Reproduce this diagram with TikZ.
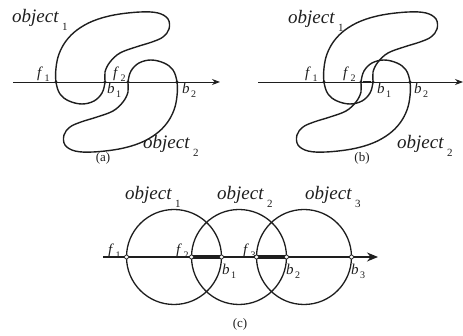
\documentclass[tikz,border=0pt]{standalone}
\usepackage{fontspec}
\setmainfont{Liberation Serif}
\usetikzlibrary{arrows.meta}
\definecolor{inkDark}{HTML}{1E1E1E}
\newcommand\objtxt[1]{\fontsize{19}{20}\selectfont\textit{object}\hspace{3pt}\raisebox{-8pt}{\fontsize{11}{11}\selectfont #1}}
\newcommand\ptxt[2]{\fontsize{15}{15}\selectfont\textit{#1}\hspace{1.5pt}\raisebox{-4pt}{\fontsize{10}{10}\selectfont #2}}
\newcommand\hook[1]{\draw[obj,#1] plot[smooth cycle,tension=0.6] coordinates
  {(0,0) (0,-14) (3,-28) (10,-41) (21,-52) (37,-61) (58,-67) (84,-70) (102,-69)
   (112,-63) (113,-53) (107,-45) (96,-40) (80,-35) (64,-29) (54,-20) (49,-10)
   (49,0) (46,11) (38,19) (26,22) (13,19) (4,12)};}

\begin{document}
\begin{tikzpicture}[x=1pt,y=-1pt,line join=round,
    obj/.style={draw=inkDark,line width=1.4pt},
    axis/.style={draw=inkDark,line width=0.9pt,-{Stealth[length=8pt,width=6pt]}},
    dot/.style={circle,fill=inkDark,inner sep=0pt,minimum size=3.4pt},
    hdot/.style={circle,draw=inkDark,fill=white,line width=0.7pt,inner sep=0pt,minimum size=4pt},
    ring/.style={circle,draw=inkDark,line width=1.3pt,minimum size=95pt,inner sep=0pt,outer sep=0pt},
    lbl/.style={anchor=base west,inner sep=0pt,text=inkDark},
    captxt/.style={font=\fontsize{13}{13}\selectfont,inner sep=0pt,text=inkDark}]
  \useasboundingbox (0,0) rectangle (463,336);

  % (a)
  \hook{shift={(56,82)}}
  \hook{shift={(177,82)},rotate=180}
  \coordinate (sa) at (13,82);
  \coordinate (ea) at (220,82);
  \draw[axis] (sa) -- (ea);
  \node[dot] (f1a) at (56,82) {};
  \node[dot] (b1a) at (105,82) {};
  \node[dot] (f2a) at (128,82) {};
  \node[dot] (b2a) at (177,82) {};
  \node[lbl] (o1a) at (12,23) {\objtxt{1}};
  \node[lbl] (o2a) at (143,149) {\objtxt{2}};
  \node[lbl] (lf1a) at (37,78) {\ptxt{f}{1}};
  \node[lbl] (lf2a) at (113,78) {\ptxt{f}{2}};
  \node[lbl] (lb1a) at (107,94) {\ptxt{b}{1}};
  \node[lbl] (lb2a) at (182,94) {\ptxt{b}{2}};
  \node[captxt] (capa) at (103,158) {(a)};

  % (b)
  \hook{shift={(324,82)}}
  \hook{shift={(410,82)},rotate=180}
  \coordinate (sb) at (258,82);
  \coordinate (eb) at (463,82);
  \draw[axis] (sb) -- (eb);
  \node[dot] (f1b) at (324,82) {};
  \node[dot] (f2b) at (361,82) {};
  \node[dot] (b1b) at (373,82) {};
  \node[dot] (b2b) at (410,82) {};
  \draw[draw=inkDark,line width=2.6pt] (f2b) -- (b1b);
  \node[lbl] (o1b) at (288,24) {\objtxt{1}};
  \node[lbl] (o2b) at (397,149) {\objtxt{2}};
  \node[lbl] (lf1b) at (305,78) {\ptxt{f}{1}};
  \node[lbl] (lf2b) at (343,78) {\ptxt{f}{2}};
  \node[lbl] (lb1b) at (377,94) {\ptxt{b}{1}};
  \node[lbl] (lb2b) at (414,94) {\ptxt{b}{2}};
  \node[captxt] (capb) at (362,158) {(b)};

  % (c)
  \node[ring] (c1) at (174,257) {};
  \node[ring] (c2) at (239,257) {};
  \node[ring] (c3) at (304,257) {};
  \coordinate (sc) at (103,257);
  \coordinate (ec) at (378,257);
  \draw[axis,line width=1.2pt,-{Stealth[length=11pt,width=9pt]}] (sc) -- (ec);
  \draw[draw=inkDark,line width=3.4pt] (c2.west) -- (c1.east);
  \draw[draw=inkDark,line width=3.4pt] (c3.west) -- (c2.east);
  \foreach \c in {c1,c2,c3}{
    \node[hdot] at (\c.west) {};
    \node[hdot] at (\c.east) {};
  }
  \node[lbl] (o1c) at (125,200) {\objtxt{1}};
  \node[lbl] (o2c) at (217,200) {\objtxt{2}};
  \node[lbl] (o3c) at (305,200) {\objtxt{3}};
  \node[lbl] (lf1c) at (108,255) {\ptxt{f}{1}};
  \node[lbl] (lf2c) at (176,255) {\ptxt{f}{2}};
  \node[lbl] (lf3c) at (243,255) {\ptxt{f}{3}};
  \node[lbl] (lb1c) at (222,275) {\ptxt{b}{1}};
  \node[lbl] (lb2c) at (286,275) {\ptxt{b}{2}};
  \node[lbl] (lb3c) at (351,275) {\ptxt{b}{3}};
  \node[captxt] (capc) at (240,324) {(c)};
\end{tikzpicture}
\end{document}
